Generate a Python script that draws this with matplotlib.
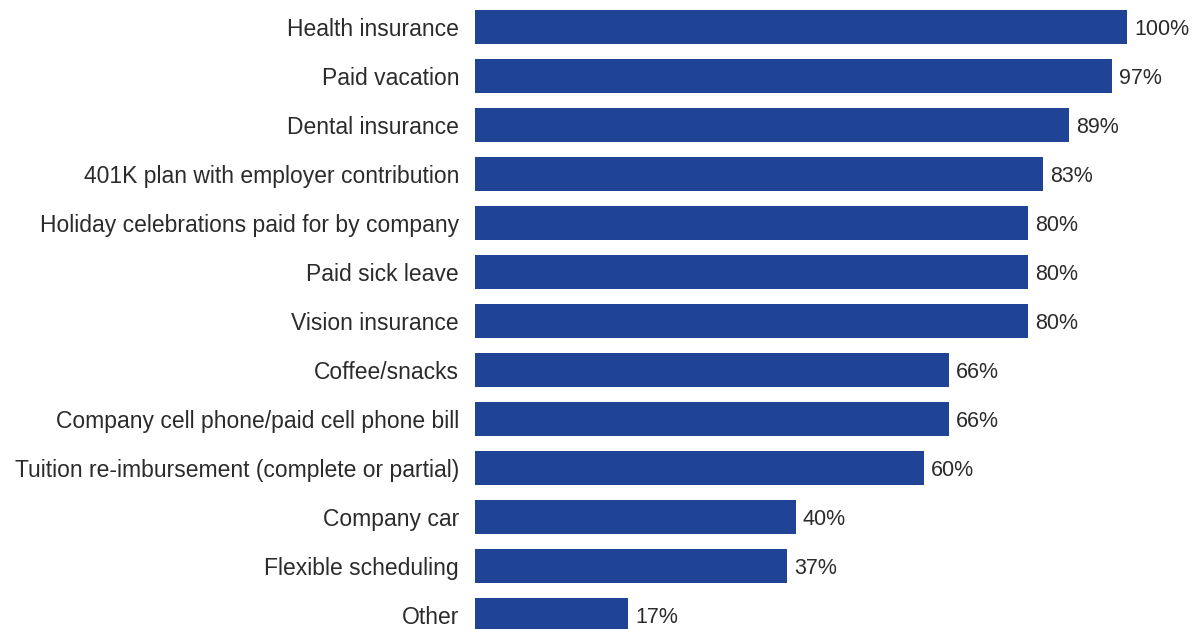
import matplotlib
matplotlib.use("Agg")
import matplotlib.pyplot as plt

# benefit categories, top to bottom
benefits = [
    "Health insurance",
    "Paid vacation",
    "Dental insurance",
    "401K plan with employer contribution",
    "Holiday celebrations paid for by company",
    "Paid sick leave",
    "Vision insurance",
    "Coffee/snacks",
    "Company cell phone/paid cell phone bill",
    "Tuition re-imbursement (complete or partial)",
    "Company car",
    "Flexible scheduling",
    "Other",
]
# printed shares
share_labels = ["100%", "97%", "89%", "83%", "80%", "80%", "80%",
                "66%", "66%", "60%", "40%", "37%", "17%"]
# bar lengths as drawn in the source (the source bars are not to scale)
bar_values = [100, 97.7, 91.1, 87.1, 84.8, 84.8, 84.8,
              72.7, 72.7, 68.9, 49.2, 47.9, 23.5]

bar_color = "#1f4496"
text_color = "#2b2b2b"

plt.rcParams['font.family'] = ['Liberation Sans', 'DejaVu Sans']

fig = plt.figure(figsize=(12.04, 6.29), dpi=100)
W, H = 1204, 629
x0 = 475
ax = fig.add_axes([x0 / W, 0, (W - x0) / W, 1])

pitch = 49.0
first_center = 26.75
ypos = list(range(len(benefits)))
ax.barh(ypos, bar_values, height=33.5 / pitch, color=bar_color)

ax.set_ylim((H - first_center) / pitch, -first_center / pitch)
ax.set_xlim(0, (W - x0) / 652 * 100)

for i, (v, lab) in enumerate(zip(bar_values, share_labels)):
    ax.annotate(lab, (v, i), xytext=(5, 0), textcoords="offset points",
                va="center_baseline", ha="left", fontsize=15.5,
                color=text_color)

ax.set_yticks(ypos)
ax.set_yticklabels(benefits, fontsize=16.5, color=text_color)
ax.tick_params(axis="y", length=0, pad=11.5)
ax.set_xticks([])
for s in ax.spines.values():
    s.set_visible(False)

fig.savefig("out.png", dpi=100)
